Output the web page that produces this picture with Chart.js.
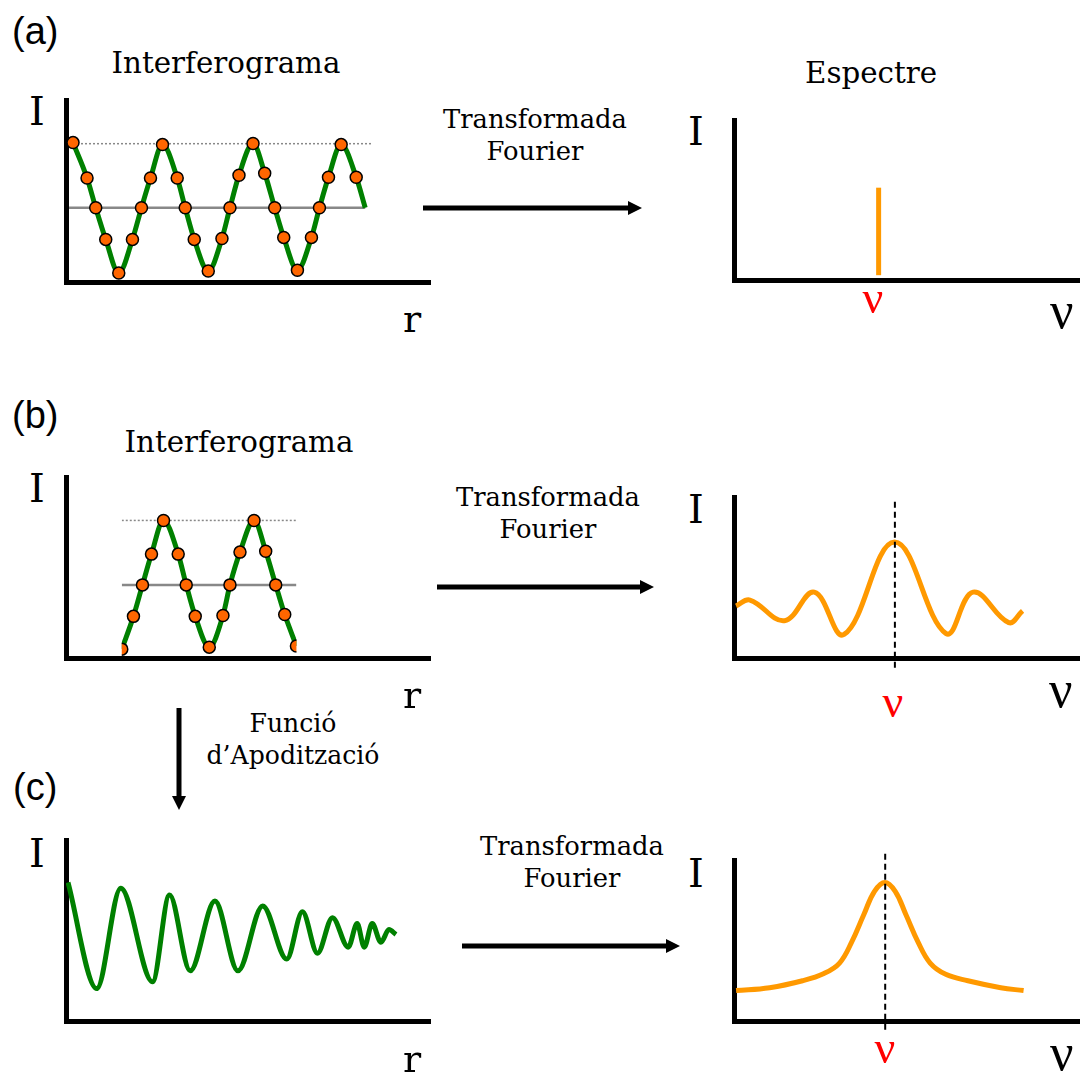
<!DOCTYPE html>
<html>
<head>
<meta charset="utf-8">
<script src="https://cdn.jsdelivr.net/npm/chart.js@4"></script>
<style>
  html, body { margin: 0; padding: 0; background: #fff; }
  body { width: 1080px; height: 1075px; position: relative; overflow: hidden; }
  canvas { position: absolute; }
  .lbl { position: absolute; white-space: nowrap; line-height: 1.2; color: #000; }
  svg { position: absolute; left: 0; top: 0; }
</style>
</head>
<body>
<svg id="arrows" width="1080" height="1075"></svg>
<canvas id="aLeft"></canvas>
<canvas id="aRight"></canvas>
<canvas id="bLeft"></canvas>
<canvas id="bRight"></canvas>
<canvas id="cLeft"></canvas>
<canvas id="cRight"></canvas>
<script>
// (a) interferograma mostrejat
const aR = [2.1, 6.3, 8.9, 11.9, 15.8, 19.9, 22.6, 25.3, 28.9, 33.3, 35.7, 38.4, 42.6,
            46.7, 49.1, 51.8, 56.0, 59.5, 62.5, 65.2, 69.3, 73.5, 75.9, 78.6, 82.4, 86.9];
const aI = [76.6, 57.1, 40.8, 23.4, 4.9, 23.4, 40.8, 57.1, 75.5, 57.1, 40.8, 23.4, 6.0,
            23.9, 40.8, 58.7, 76.1, 59.8, 40.8, 24.5, 6.5, 24.5, 40.8, 57.6, 75.5, 57.6];
const aEndR = 89.6, aEndI = 40.8;
const aMaxLine = [0.9, 91.7], aMaxI = 76.0;
const aMidLine = [0.9, 89.6], aMidI = 40.8;

// (a) espectre: una sola línia
const aSpikeNu = 41.8;
const aSpikeI = [3, 57.7];

// (b) interferograma truncat
const bR = [16.7, 20.2, 22.9, 25.6, 29.2, 33.6, 36.0, 38.7, 42.9, 47.0, 49.1, 52.1, 56.3, 59.8, 62.8, 65.5, 69.0];
const bI = [4.9, 23.0, 40.4, 57.4, 76.0, 57.4, 40.4, 23.0, 6.0, 23.5, 40.4, 58.5, 76.0, 59.0, 40.4, 24.0, 6.6];
const bMaxI = 76.0, bMidI = 40.4;

// (b) espectre amb lòbuls laterals
const bNu = [0.6, 4.6, 14.6, 23.2, 31.8, 46.4, 61.3, 69.1, 79.4, 83.4];
const bSpec = [32.3, 36.0, 23.2, 40.9, 14.6, 72.0, 15.2, 40.9, 22.0, 29.3];
const bCenter = 46.5, bDash = [-6, 98];

// (c) interferograma apoditzat
const cR = [0.6, 9.2, 16.4, 25.9, 31.0, 37.2, 44.6, 51.5, 58.9, 66.1, 70.8, 75.3, 79.8, 84.5,
            87.2, 89.3, 91.7, 94.3, 96.7, 98.8];
const cI = [76.6, 17.9, 73.4, 21.7, 69.6, 27.7, 66.3, 27.7, 63.6, 34.2, 60.3, 37.5, 57.1, 40.8,
            53.8, 40.8, 53.8, 43.5, 50.5, 47.8];

// (c) espectre apoditzat
const cNu = [0.6, 10.3, 19.8, 26.0, 30.5, 34.0, 37.5, 40.6, 43.6, 46.6, 49.7, 53.2, 56.7,
             61.2, 67.6, 77.1, 83.7];
const cSpec = [18.9, 20.7, 25.0, 29.5, 36.0, 49.0, 66.0, 80.5, 86.0, 80.5, 66.0, 49.0, 36.0,
               29.0, 25.0, 20.7, 18.9];
const cCenter = 43.7, cDash = [-5.5, 105];

const GREEN = '#008000';
const ORANGE = '#FF9900';
const DOT = '#FF6600';
const SERIF = '"DejaVu Serif", serif';

const pts = (xs, ys) => xs.map((x, i) => ({ x: x, y: ys[i] }));

function axisScale(max) {
    return {
        type: 'linear',
        min: 0,
        max: max,
        grid: { display: false, drawTicks: false },
        ticks: { display: false },
        border: { display: true, color: '#000', width: 5 }
    };
}

function makePanel(id, area, xMax, datasets, plugins) {
    const pad = 12;
    const cv = document.getElementById(id);
    cv.width = area.w + pad * 2;
    cv.height = area.h + pad * 2;
    cv.style.left = (area.left - pad) + 'px';
    cv.style.top = (area.top - pad) + 'px';
    return new Chart(cv, {
        type: 'line',
        data: { datasets: datasets },
        options: {
            responsive: false,
            animation: false,
            devicePixelRatio: 1,
            layout: { padding: pad },
            plugins: { legend: { display: false }, tooltip: { enabled: false } },
            scales: { x: axisScale(xMax), y: axisScale(100) }
        },
        plugins: plugins || []
    });
}

// verd: interpolació monòtona; taronja: corba suau amb tensió
function curve(data, color, order, tension) {
    const ds = {
        data: data, borderColor: color, borderWidth: 5, pointRadius: 0,
        fill: false, order: order
    };
    if (tension) ds.tension = tension;
    else ds.cubicInterpolationMode = 'monotone';
    return ds;
}
function markers(data) {
    return {
        data: data, showLine: false, pointRadius: 6, pointBorderWidth: 1.5,
        pointBackgroundColor: DOT, pointBorderColor: '#000', clip: false, order: 0
    };
}
function guide(x0, x1, y, dashed) {
    return {
        data: [{ x: x0, y: y }, { x: x1, y: y }], borderColor: '#888',
        borderWidth: dashed ? 1.5 : 2.5, borderDash: dashed ? [2, 2] : [],
        pointRadius: 0, order: 3
    };
}
function centerLine(x, ys) {
    return {
        data: [{ x: x, y: ys[0] }, { x: x, y: ys[1] }], borderColor: '#000',
        borderWidth: 2, borderDash: [6, 4], pointRadius: 0, clip: false, order: 0
    };
}

// (a)
makePanel('aLeft', { left: 66, top: 100, w: 364, h: 182 }, 109, [
    markers(pts(aR, aI)),
    curve(pts(aR, aI).concat([{ x: aEndR, y: aEndI }]), GREEN, 1),
    guide(aMaxLine[0], aMaxLine[1], aMaxI, true),
    guide(aMidLine[0], aMidLine[1], aMidI, false)
]);
makePanel('aRight', { left: 734, top: 120, w: 346, h: 160 }, 100, [
    { data: [{ x: aSpikeNu, y: aSpikeI[0] }, { x: aSpikeNu, y: aSpikeI[1] }],
      borderColor: ORANGE, borderWidth: 5, pointRadius: 0 }
]);

// (b) - la finestra retalla l'interferograma
const windowClip = {
    id: 'windowClip',
    beforeDatasetsDraw(chart) {
        const xs = chart.scales.x, ca = chart.chartArea, ctx = chart.ctx;
        const x0 = xs.getPixelForValue(bR[0]), x1 = xs.getPixelForValue(bR[bR.length - 1]);
        ctx.save();
        ctx.beginPath();
        ctx.rect(x0, ca.top - 20, x1 - x0, ca.height + 40);
        ctx.clip();
    },
    afterDatasetsDraw(chart) { chart.ctx.restore(); }
};
makePanel('bLeft', { left: 66, top: 477, w: 364, h: 181 }, 109, [
    markers(pts(bR, bI)),
    curve(pts(bR, bI), GREEN, 1),
    guide(bR[0], bR[bR.length - 1], bMaxI, true),
    guide(bR[0], bR[bR.length - 1], bMidI, false)
], [windowClip]);
makePanel('bRight', { left: 734, top: 497, w: 346, h: 161 }, 100, [
    centerLine(bCenter, bDash),
    curve(pts(bNu, bSpec), ORANGE, 1, 0.4)
]);

// (c)
makePanel('cLeft', { left: 66, top: 840, w: 364, h: 181 }, 109, [
    curve(pts(cR, cI), GREEN, 1)
]);
makePanel('cRight', { left: 734, top: 860, w: 346, h: 161 }, 100, [
    centerLine(cCenter, cDash),
    curve(pts(cNu, cSpec), ORANGE, 1, 0.4)
]);

// textos
const meas = document.createElement('canvas').getContext('2d');
function fitSize(text, family, width) {
    meas.font = '100px ' + family;
    return 100 * width / meas.measureText(text).width;
}
function label(text, cx, baseY, size, opts) {
    opts = opts || {};
    const d = document.createElement('div');
    d.className = 'lbl';
    d.style.fontFamily = opts.family || SERIF;
    d.style.fontSize = size + 'px';
    if (opts.color) d.style.color = opts.color;
    d.textContent = text;
    const mark = document.createElement('span');
    mark.style.cssText = 'display:inline-block;width:0;height:0;vertical-align:baseline';
    d.appendChild(mark);
    document.body.appendChild(d);
    const base = mark.offsetTop;
    d.style.left = (cx - d.offsetWidth / 2) + 'px';
    d.style.top = (baseY - base) + 'px';
}

const SANS = '"Liberation Sans", Arial, sans-serif';
const TIMES = '"Liberation Serif", serif';
label('(a)', 35, 44, 38, { family: SANS });
label('(b)', 35, 428, 38, { family: SANS });
label('(c)', 35, 800, 38, { family: SANS });

const titleSize = fitSize('Interferograma', SERIF, 229);
label('Interferograma', 226, 73, titleSize);
label('Interferograma', 239, 452, titleSize);
label('Espectre', 871, 83, titleSize);

const tfSize = fitSize('Transformada', SERIF, 184);
[[535, 128], [548, 506], [572, 855]].forEach(p => {
    label('Transformada', p[0], p[1], tfSize);
    label('Fourier', p[0], p[1] + 32, tfSize);
});
const apSize = fitSize('d\u2019Apodització', SERIF, 173);
label('Funció', 293, 732, apSize);
label('d\u2019Apodització', 293, 764, apSize);

[125, 502, 867].forEach(y => label('I', 37, y, 40));
[145, 523, 887].forEach(y => label('I', 696, y, 40));
[332, 708, 1072].forEach(y => label('r', 412, y, 38));
[[873, 313], [893, 717], [885, 1063]].forEach(p => label('\u03BD', p[0], p[1], 46, { family: TIMES, color: '#FF0000' }));
[[1062, 328], [1061, 707], [1062, 1070]].forEach(p => label('\u03BD', p[0], p[1], 52, { family: TIMES }));

// fletxes
const svg = document.getElementById('arrows');
function arrow(x0, y0, x1, y1) {
    const ns = 'http://www.w3.org/2000/svg';
    const len = Math.hypot(x1 - x0, y1 - y0), ux = (x1 - x0) / len, uy = (y1 - y0) / len;
    const hl = 14, hw = 7;
    const bx = x1 - ux * hl, by = y1 - uy * hl;
    const line = document.createElementNS(ns, 'line');
    line.setAttribute('x1', x0); line.setAttribute('y1', y0);
    line.setAttribute('x2', bx + ux); line.setAttribute('y2', by + uy);
    line.setAttribute('stroke', '#000'); line.setAttribute('stroke-width', 5);
    svg.appendChild(line);
    const head = document.createElementNS(ns, 'polygon');
    head.setAttribute('points', [x1, y1, bx - uy * hw, by + ux * hw, bx + uy * hw, by - ux * hw].join(','));
    head.setAttribute('fill', '#000');
    svg.appendChild(head);
}
arrow(423, 208, 642, 208);
arrow(437, 587, 654, 587);
arrow(462, 946, 680, 946);
arrow(179, 708, 179, 810);
</script>
</body>
</html>
